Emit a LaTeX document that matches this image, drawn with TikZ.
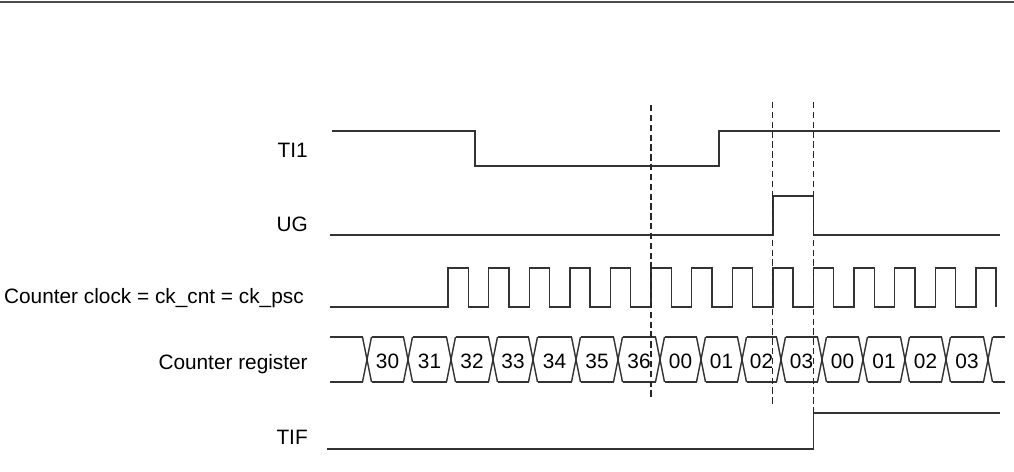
\documentclass[tikz,border=0pt]{standalone}
\usepackage{fontspec}
\setmainfont{Liberation Sans}
\begin{document}
\begin{tikzpicture}[x=0.025cm,y=-0.025cm,
    wave/.style={line width=1pt,color=black!80},
    marker/.style={line width=0.9pt,color=black!85,dash pattern=on 4.5pt off 2.5pt},
    lbl/.style={anchor=base east,inner sep=0pt,font=\fontsize{14.8}{17}\selectfont},
    val/.style={inner sep=0pt,font=\fontsize{14.8}{17}\selectfont}]
  \useasboundingbox (0,0) rectangle (1014,472);
  \draw[line width=1.8pt,color=black!70] (0,2) -- (1014,2);
  \draw
    (308,158) node[lbl] (ti1){TI1}
    (308,232) node[lbl] (ug){UG}
    (304,304) node[lbl] (clk){Counter clock = ck\_cnt = ck\_psc}
    (308,369) node[lbl] (cnt){Counter register}
    (308,444) node[lbl] (tif){TIF};
  % TI1 and UG
  \draw[wave] (332,131) -- (475,131) -- (475,166) -- (719,166) -- (719,131) -- (1000,131);
  \draw[wave] (330,235) -- (772.8,235) -- (772.8,196) -- (813.4,196) -- (813.4,235) -- (1000,235);
  % counter clock
  \draw[wave] (330,307) \foreach \k in {0,...,13} {
      -- ({448+40.6*\k},307) -- ++(0,-39) -- ++(20.3,0) -- ++(0,39)};
  % counter register
  \draw[wave] (330,337) -- (362.5,337) (330,382) -- (362.5,382)
    (992.5,337) -- (1005,337) (992.5,382) -- (1005,382);
  \foreach \t in {367,408,451,493,533,576,618,660,701,742,781,822,863,905,946,988}
    \draw[wave] ({\t-4.5},337) -- ({\t+4.5},382) ({\t-4.5},382) -- ({\t+4.5},337);
  \foreach \a/\b/\v [count=\i] in {367/408/30,408/451/31,451/493/32,493/533/33,
      533/576/34,576/618/35,618/660/36,660/701/00,701/742/01,742/781/02,781/822/03,
      822/863/00,863/905/01,905/946/02,946/988/03} {
    \draw[wave] ({\a+4.5},337) -- ({\b-4.5},337) ({\a+4.5},382) -- ({\b-4.5},382);
    \node[val] (r\i) at ({(\a+\b)/2},361) {\v};
  }
  % TIF
  \draw[wave] (327,449) -- (813.4,449) -- (813.4,413) -- (1000,413);
  % markers
  \draw[marker] (651,105) -- (651,398);
  \draw[marker] (772.8,102) -- (772.8,405);
  \draw[marker] (813.4,102) -- (813.4,413);
\end{tikzpicture}
\end{document}
